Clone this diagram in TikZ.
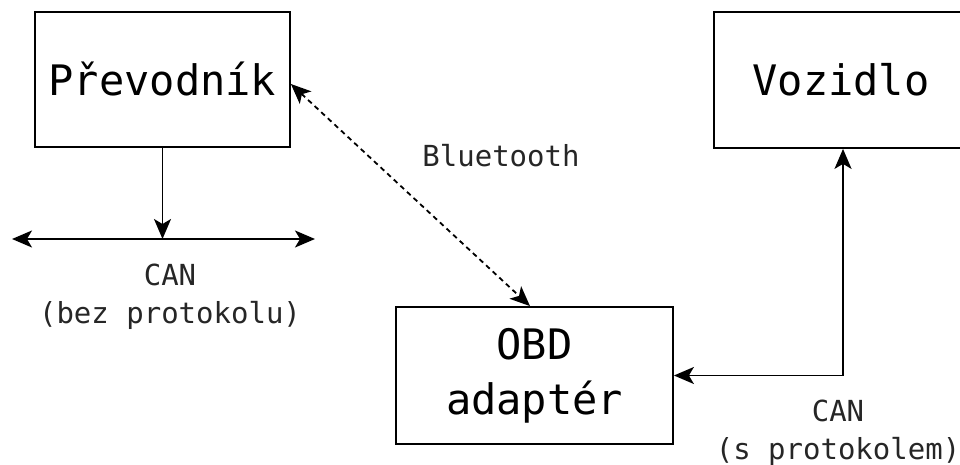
\documentclass[tikz,border=0pt]{standalone}
\usepackage{fontspec}
\newfontfamily\monofont{DejaVu Sans Mono}
\usetikzlibrary{arrows.meta}
\tikzset{
  >={Stealth[length=20pt,width=17pt,inset=5pt]},
  box/.style={draw=black, line width=1.8pt, inner sep=0pt, align=center,
    font=\monofont\fontsize{42}{55}\selectfont},
  lbl/.style={inner sep=0pt, align=center, text=black!85,
    font=\monofont\fontsize{29}{38}\selectfont},
  conn/.style={line width=1.8pt, ->},
  bidir/.style={line width=1.8pt, <->}
}
\begin{document}
\begin{tikzpicture}[x=1pt,y=-1pt]
\useasboundingbox (0,0) rectangle (960,465);
\clip (0,0) rectangle (960,465);
\node[box, minimum width=255pt, minimum height=135pt] (prev) at (162.5,79.5) {Převodník};
\node[box, minimum width=254pt, minimum height=136pt] (voz) at (841,80) {Vozidlo};
\node[box, minimum width=277pt, minimum height=137pt] (obd) at (534.5,375.5) {OBD\\adaptér};
\coordinate (busT) at (162.5,239);
\coordinate (busL) at (12,239);
\coordinate (busR) at (315,239);
\draw[conn] (prev.south) -- (busT);
\draw[bidir] (busL) -- (busR);
\draw[bidir, dash pattern=on 5pt off 4pt] ([yshift=-4.5pt]prev.east) -- ([xshift=-4.5pt]obd.north);
\draw[bidir] ([xshift=2pt]voz.south) |- (obd.east);
\node[lbl, anchor=base] (bt) at (501,167) {Bluetooth};
\node[lbl] (can1) at (170,297) {CAN\\(bez protokolu)};
\node[lbl] (can2) at (838,433) {CAN\\(s protokolem)};
\end{tikzpicture}
\end{document}
